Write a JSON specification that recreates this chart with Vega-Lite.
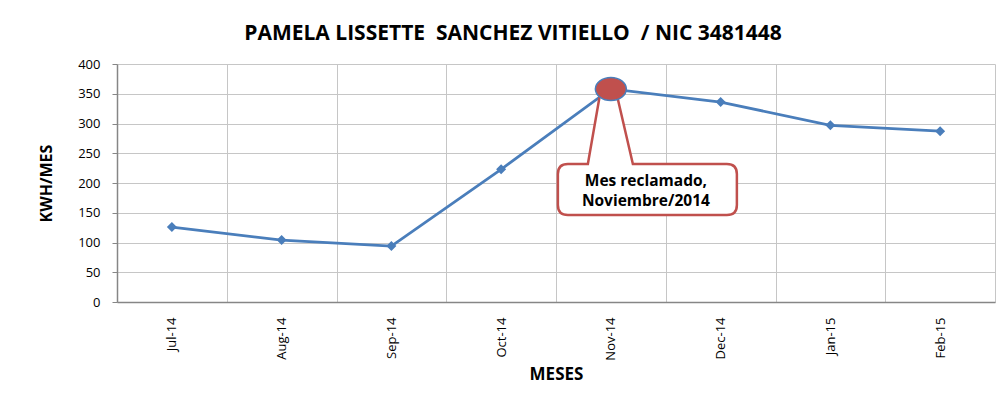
{
  "$schema": "https://vega.github.io/schema/vega-lite/v6.json",
  "width": 878,
  "height": 238,
  "autosize": {"type": "none"},
  "padding": {"left": 117, "top": 64, "right": 8, "bottom": 100},
  "background": "white",
  "datasets": {
    "consumo": [
      {"mes": "Jul-14", "kwh": 126},
      {"mes": "Aug-14", "kwh": 104},
      {"mes": "Sep-14", "kwh": 94},
      {"mes": "Oct-14", "kwh": 223},
      {"mes": "Nov-14", "kwh": 358},
      {"mes": "Dec-14", "kwh": 336},
      {"mes": "Jan-15", "kwh": 297},
      {"mes": "Feb-15", "kwh": 287}
    ],
    "nota": [
      {"mes": "Nov-14", "kwh": 358, "texto": "Mes reclamado,\nNoviembre/2014"}
    ]
  },
  "title": {
    "text": "PAMELA LISSETTE\u00a0 SANCHEZ VITIELLO\u00a0 / NIC 3481448",
    "font": "Open Sans",
    "fontSize": 21,
    "fontWeight": "bold",
    "color": "#000000",
    "anchor": "middle",
    "dx": -43,
    "offset": 14
  },
  "config": {
    "view": {"stroke": null},
    "axis": {
      "labelFont": "Open Sans",
      "labelFontSize": 13,
      "labelColor": "#000000",
      "titleFont": "Open Sans",
      "titleFontWeight": "bold",
      "titleColor": "#000000",
      "gridColor": "#c6c6c6",
      "gridWidth": 1,
      "domainColor": "#868686",
      "domainWidth": 1.5,
      "tickColor": "#868686"
    }
  },
  "encoding": {
    "x": {
      "field": "mes",
      "type": "nominal",
      "sort": ["Jul-14", "Aug-14", "Sep-14", "Oct-14", "Nov-14", "Dec-14", "Jan-15", "Feb-15"],
      "scale": {"type": "band", "paddingInner": 0, "paddingOuter": 0},
      "axis": {
        "title": "MESES",
        "titleFontSize": 17,
        "titlePadding": 6,
        "labelAngle": -90,
        "labelPadding": 15,
        "ticks": false,
        "tickBand": "extent",
        "grid": true
      }
    },
    "y": {
      "field": "kwh",
      "type": "quantitative",
      "scale": {"domain": [0, 400], "nice": false},
      "axis": {
        "title": "KWH/MES",
        "titleFontSize": 16,
        "titlePadding": 23,
        "values": [0, 50, 100, 150, 200, 250, 300, 350, 400],
        "tickSize": 5,
        "labelPadding": 12,
        "grid": true
      }
    }
  },
  "layer": [
    {
      "data": {"name": "consumo"},
      "mark": {"type": "line", "color": "#4a7ebb", "strokeWidth": 2.75}
    },
    {
      "data": {"name": "consumo"},
      "mark": {"type": "point", "shape": "diamond", "filled": true, "size": 100, "color": "#4a7ebb", "opacity": 1}
    },
    {
      "data": {"name": "nota"},
      "mark": {
        "type": "point",
        "shape": "M -0.43 0.75 L -0.23 0.75 L -0.11 0.06 L 0.06 0.06 L 0.22 0.75 L 1.16 0.75 Q 1.26 0.75 1.26 0.85 L 1.26 1.16 Q 1.26 1.26 1.16 1.26 L -0.43 1.26 Q -0.53 1.26 -0.53 1.16 L -0.53 0.85 Q -0.53 0.75 -0.43 0.75 Z",
        "size": 40000,
        "filled": true,
        "fill": "#ffffff",
        "stroke": "#c0504d",
        "strokeWidth": 2.5,
        "opacity": 1,
        "fillOpacity": 1,
        "strokeOpacity": 1
      }
    },
    {
      "data": {"name": "nota"},
      "mark": {
        "type": "point",
        "shape": "M -1 0 C -1 -0.409 -0.552 -0.74 0 -0.74 C 0.552 -0.74 1 -0.409 1 0 C 1 0.409 0.552 0.74 0 0.74 C -0.552 0.74 -1 0.409 -1 0 Z",
        "size": 961,
        "filled": true,
        "fill": "#c0504d",
        "stroke": "#4a7ebb",
        "strokeWidth": 1.5,
        "opacity": 1,
        "fillOpacity": 1,
        "strokeOpacity": 1
      }
    },
    {
      "data": {"name": "nota"},
      "mark": {
        "type": "text",
        "font": "Open Sans",
        "fontSize": 15.5,
        "fontWeight": "bold",
        "color": "#000000",
        "lineBreak": "\n",
        "lineHeight": 20,
        "align": "center",
        "baseline": "middle",
        "dx": 35,
        "dy": 92
      },
      "encoding": {"text": {"field": "texto", "type": "nominal"}}
    }
  ]
}
